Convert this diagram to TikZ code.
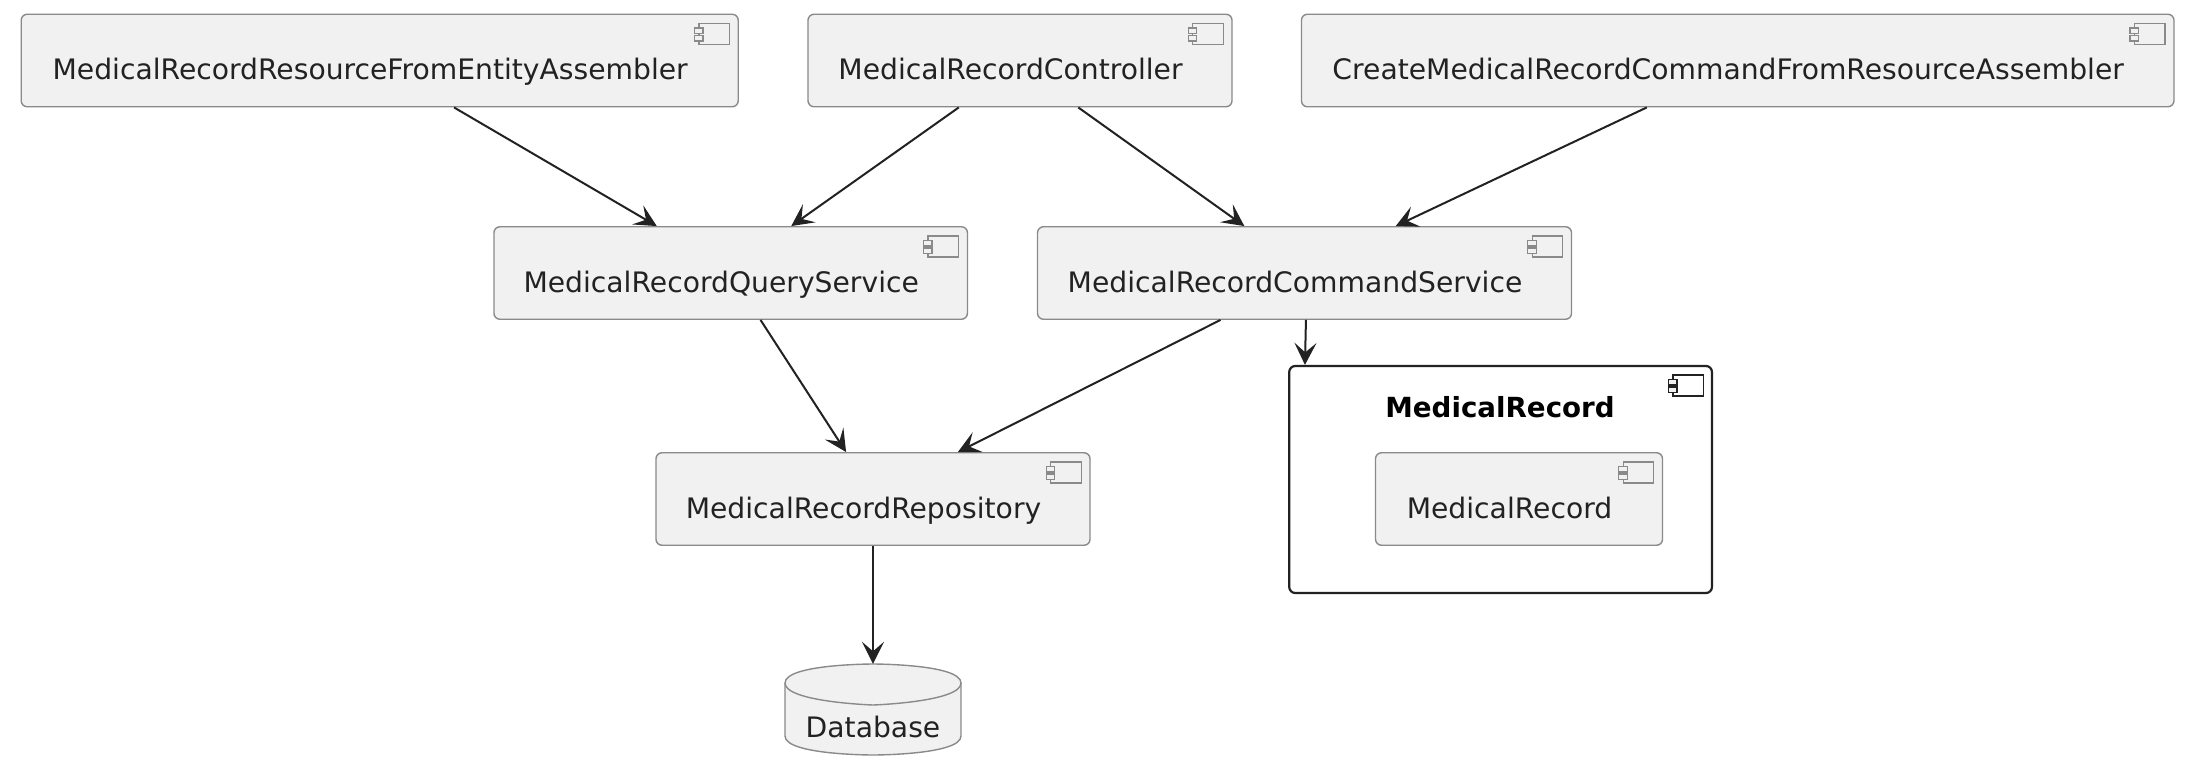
\documentclass[tikz,border=0pt]{standalone}
\usepackage{fontspec}
\setmainfont{DejaVu Sans}
\usetikzlibrary{arrows.meta,calc}
\definecolor{boxfill}{HTML}{F1F1F1}
\definecolor{boxline}{HTML}{8A8A8A}
\definecolor{inkdark}{HTML}{222222}
\newcommand{\labfont}{\fontsize{28.2}{32}\selectfont}
\newcommand{\titlefont}{\fontsize{27.7}{32}\selectfont\bfseries}
\newcommand{\complabel}[2][19]{\smash{\raisebox{-19pt}{#2}}\hspace*{#1pt}}
% component icon at the north east corner of a node
\newcommand{\compicon}[2][boxline]{%
  \begin{scope}[shift={(#2.north east)},draw=#1,line width=1.4pt]
    \draw[#1] (-40,10) rectangle (-9.5,31);
    \draw[#1,fill=boxfill] (-44.5,14.5) rectangle (-36,20);
    \draw[#1,fill=boxfill] (-44.5,22) rectangle (-36,27.5);
  \end{scope}}
\tikzset{
  x=1pt,y=-1pt,
  comp/.style={draw=boxline,fill=boxfill,line width=1.4pt,rounded corners=6pt,
    inner sep=0pt,minimum height=92.5pt,text=inkdark,font=\labfont},
  frame/.style={draw=inkdark,line width=2.2pt,rounded corners=6pt,inner sep=0pt},
  link/.style={draw=inkdark,line width=2pt,-{Stealth[length=22pt,width=22pt,inset=9.5pt]}},
  dbshape/.style={draw=boxline,fill=boxfill,line width=1.4pt},
  dbline/.style={draw=boxline,line width=1.4pt},
  titlelabel/.style={inner sep=0pt,text=black,font=\titlefont}
}
\begin{document}
\begin{tikzpicture}
\useasboundingbox (0,0) rectangle (2192,774);
\fill[white] (0,0) rectangle (2192,774);

\node[comp,minimum width=717pt] (res) at (379.7,60.5) {\complabel{MedicalRecordResourceFromEntityAssembler}};
\node[comp,minimum width=424pt] (ctl) at (1020,60.5) {\complabel{MedicalRecordController}};
\node[comp,minimum width=872.5pt] (cre) at (1737.7,60.5) {\complabel{CreateMedicalRecordCommandFromResourceAssembler}};
\node[comp,minimum width=473.5pt] (qry) at (730.7,273) {\complabel{MedicalRecordQueryService}};
\node[comp,minimum width=534pt] (cmd) at (1304.5,273) {\complabel{MedicalRecordCommandService}};
\node[comp,minimum width=434pt] (rep) at (873,499) {\complabel{MedicalRecordRepository}};
\node[frame,minimum width=422.7pt,minimum height=227pt] (ent) at (1500.6,479.5) {};
\node[titlelabel,anchor=base] (enttitle) at (1500,417) {MedicalRecord};
\node[comp,minimum width=287pt] (rec) at (1519,499) {\complabel{MedicalRecord}};

\foreach \n in {res,ctl,cre,qry,cmd,rep,rec} {\compicon{\n}}
\compicon[inkdark]{ent}

% database
\draw[dbshape] (785,683) .. controls (785,664) and (873,664) .. (873,664)
  .. controls (873,664) and (961,664) .. (961,683) -- (961,736)
  .. controls (961,755) and (873,755) .. (873,755)
  .. controls (873,755) and (785,755) .. (785,736) -- cycle;
\draw[dbline] (785,683) .. controls (785,702) and (873,705) .. (873,705)
  .. controls (873,705) and (961,702) .. (961,683);
\node[minimum width=176pt,minimum height=91pt,inner sep=0pt,text=inkdark,font=\labfont] (db) at (873,709.5) {\smash{\raisebox{-27.5pt}{Database}}};

% connectors
\draw[link] ($(res.south west)!0.6035!(res.south east)$) -- ($(qry.north west)!0.3443!(qry.north east)$);
\draw[link] ($(ctl.south west)!0.356!(ctl.south east)$) -- ($(qry.north west)!0.6275!(qry.north east)$);
\draw[link] ($(ctl.south west)!0.637!(ctl.south east)$) -- ($(cmd.north west)!0.3876!(cmd.north east)$);
\draw[link] ($(cre.south west)!0.3959!(cre.south east)$) -- ($(cmd.north west)!0.6704!(cmd.north east)$);
\draw[link] ($(qry.south west)!0.5628!(qry.south east)$) -- ($(rep.north west)!0.4382!(rep.north east)$);
\draw[link] ($(cmd.south west)!0.3431!(cmd.south east)$) -- ($(rep.north west)!0.6949!(rep.north east)$);
\draw[link] ($(cmd.south west)!0.5027!(cmd.south east)$) -- ($(ent.north west)!0.0395!(ent.north east)$);
\draw[link] (rep.south) -- (db.north);
\end{tikzpicture}
\end{document}
